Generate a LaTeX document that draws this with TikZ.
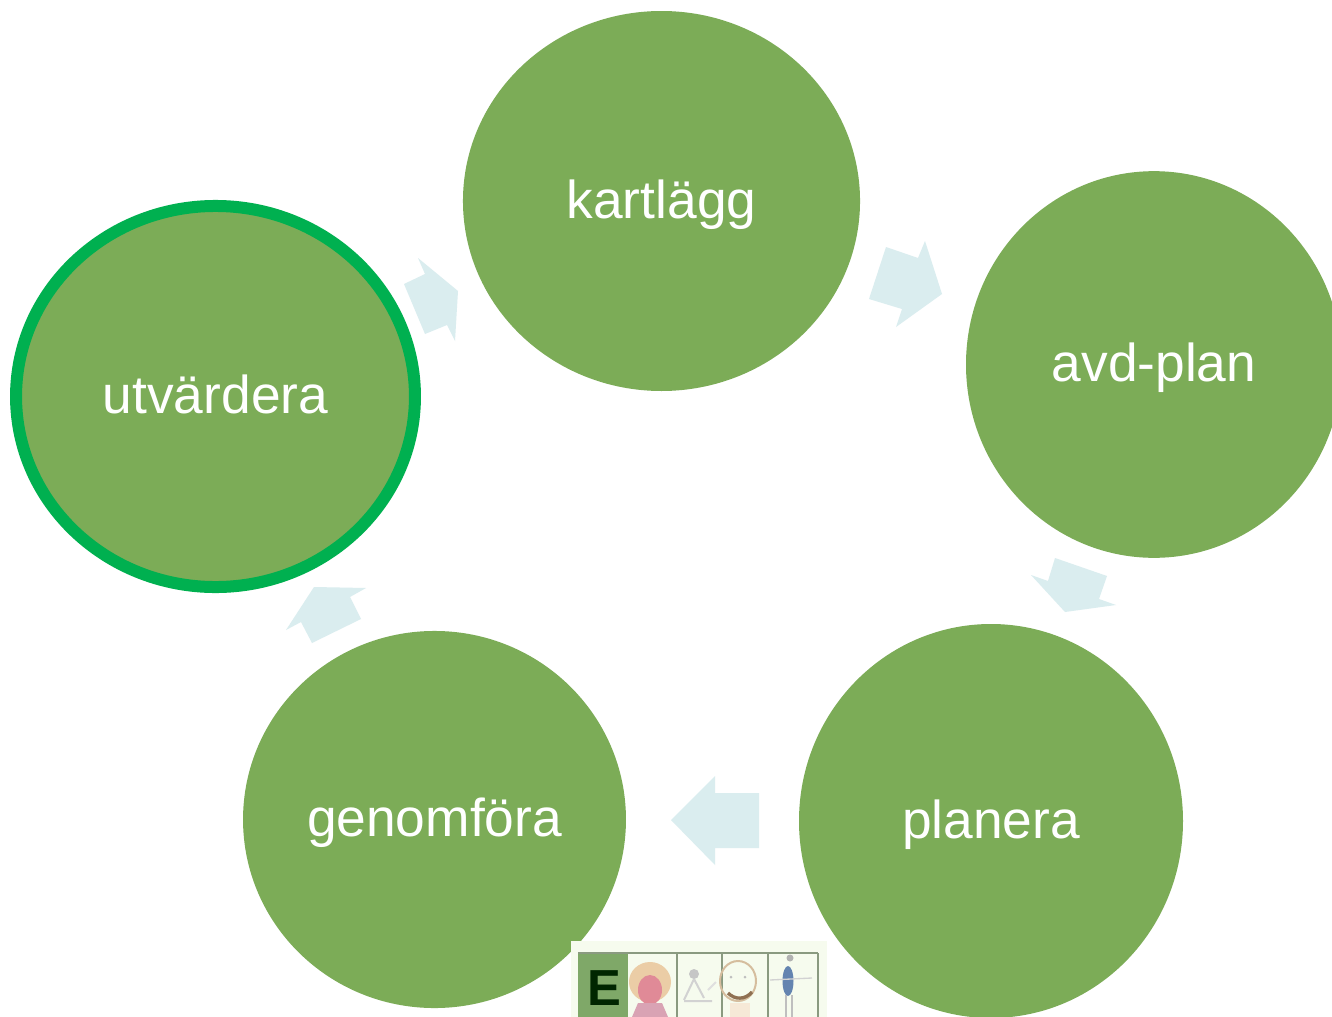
\documentclass[tikz,border=0pt]{standalone}
\usepackage{fontspec}
\setmainfont{Liberation Sans}
\usetikzlibrary{shapes.geometric}
\definecolor{leaf}{HTML}{7CAC57}
\definecolor{ring}{HTML}{00B050}
\definecolor{pale}{HTML}{DAEDEF}
\definecolor{photobg}{HTML}{F6FBEE}
\definecolor{gridc}{HTML}{8A9A80}
\definecolor{cellc}{HTML}{7FA868}
\definecolor{hairc}{HTML}{EBCDA6}
\definecolor{facec}{HTML}{E08A97}
\definecolor{dressc}{HTML}{D9A3B4}
\definecolor{bluec}{HTML}{6484B0}
\tikzset{
  stage/.style={ellipse,fill=leaf,draw=none,inner sep=0pt,outer sep=0pt,text=white,
    font=\fontsize{40pt}{44pt}\selectfont,text height=30pt,text depth=4.5pt,align=center},
  ringed/.style={stage,draw=ring,line width=9pt},
  flow/.style={fill=pale,draw=none},
  grid line/.style={draw=gridc,line width=1.8pt}
}
\begin{document}
\begin{tikzpicture}[x=0.75pt,y=-0.75pt]
\useasboundingbox (0,0) rectangle (1332,1017);
\clip (0,0) rectangle (1332,1017);
\fill[white] (0,0) rectangle (1332,1017);
% block arrows
\fill[flow] (886,247) -- (918,258) -- (925,241) -- (942,294) -- (896,327) -- (902,309) -- (869,299) -- cycle;
\fill[flow] (1055,558) -- (1107,576) -- (1099,599) -- (1116,605) -- (1065,612) -- (1031,575) -- (1048,581) -- cycle;
\fill[flow] (759,793) -- (715,793) -- (715,776) -- (671,820) -- (715,865) -- (715,848) -- (759,848) -- cycle;
\fill[flow] (361,619) -- (350,597) -- (366,588) -- (314,587) -- (286,630) -- (301,622) -- (312,643) -- cycle;
\fill[flow] (404,284) -- (425,274) -- (418,258) -- (458,291) -- (455,341) -- (447,325) -- (425,334) -- cycle;
% stages
\node[stage,minimum width=297.8pt,minimum height=285pt] (kart) at (661.5,201) {kartlägg};
\node[stage,minimum width=282pt,minimum height=290pt] (avd) at (1154,364.5) {avd-plan};
\node[stage,minimum width=288pt,minimum height=295.5pt] (plan) at (991,821) {planera};
\node[stage,minimum width=287.2pt,minimum height=282.8pt] (genom) at (434.5,819.5) {genomföra};
\node[ringed,minimum width=299.2pt,minimum height=285.8pt] (utv) at (215.5,396.5) {utvärdera};
% picture strip
\fill[photobg] (571,941) rectangle (827,1017);
\fill[cellc] (578,953) rectangle (628,1017);
\draw[grid line] (578,953) -- (818,953);
\draw[grid line] (818,953) -- (818,1017);
\draw[grid line] (677,953) -- (677,1017);
\draw[grid line] (722,953) -- (722,1017);
\draw[grid line] (768,953) -- (768,1017);
\node[inner sep=0pt,text=black!85!green,font=\fontsize{38pt}{40pt}\selectfont\bfseries] (letter) at (604,988) {E};
% figure 1
\fill[hairc] (650,982) ellipse (21 and 20);
\fill[facec] (650,990) ellipse (12 and 15);
\fill[dressc] (638,1003) -- (662,1003) -- (668,1017) -- (632,1017) -- cycle;
% figure 2
\fill[gray!45] (694,974) ellipse (5 and 5);
\draw[gray!35,line width=1.5pt] (694,979) -- (684,1000) (694,979) -- (704,998) (684,1001) -- (712,1001);
\draw[gray!25,line width=1.5pt] (708,990) -- (716,982);
% figure 3
\draw[hairc!80!gray,line width=1.5pt] (738,981) ellipse (18 and 20);
\fill[gray!50] (731,977) circle (1.5) (745,977) circle (1.5);
\draw[brown!60!black!80,line width=2.5pt] (728,993) .. controls (735,1000) and (745,1000) .. (752,992);
\fill[hairc!45!white] (730,1003) rectangle (750,1017);
% figure 4
\fill[gray!60] (790,958) circle (3.5);
\fill[bluec] (788,981) ellipse (5.5 and 15);
\draw[gray!35,line width=1pt] (770,980) -- (812,978);
\draw[gray!50,line width=1.2pt] (786,995) -- (786,1017) (792,995) -- (792,1017);
\end{tikzpicture}
\end{document}
